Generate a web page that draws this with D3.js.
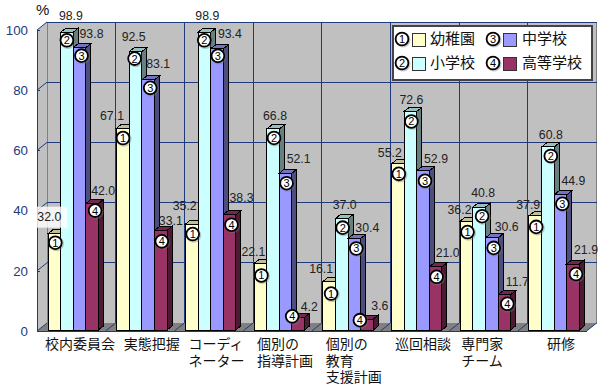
<!DOCTYPE html>
<html>
<head>
<meta charset="utf-8">
<script src="https://cdn.jsdelivr.net/npm/d3@7"></script>
<style>
  html, body { margin: 0; background: #fff; }
  svg { display: block; }
  text { font-family: "Liberation Sans", Arial, sans-serif; }
  .jp { font-family: "Noto Sans CJK JP", sans-serif; }
</style>
</head>
<body>
<svg id="chart" width="605" height="386"></svg>
<script>
const categories = ['校内委員会', '実態把握', 'コーディ\nネーター', '個別の\n指導計画', '個別の\n教育\n支援計画', '巡回相談', '専門家\nチーム', '研修'];
const schools = ['幼稚園', '小学校', '中学校', '高等学校'];
const kindergarten = [32.0, 67.1, 35.2, 22.1, 16.1, 55.2, 36.2, 37.9];
const elementary = [98.9, 92.5, 98.9, 66.8, 37.0, 72.6, 40.8, 60.8];
const juniorHigh = [93.8, 83.1, 93.4, 52.1, 30.4, 52.9, 30.6, 44.9];
const seniorHigh = [42.0, 33.1, 38.3, 4.2, 3.6, 21.0, 11.7, 21.9];
const yTicks = [0, 20, 40, 60, 80, 100];
const series = [kindergarten, elementary, juniorHigh, seniorHigh];

// hand placed in the original, so nudges from the bar top centre: [category][series] = [dx, dy]
const markerNudge = [
  [[1,9],[0,8],[2,8],[3,7]], [[0,10],[-1,7],[2,8],[1,11]],
  [[1,10],[0,8],[1,7],[2,10]], [[1,12],[1,9],[1,10],[-6,-1]],
  [[2,12],[1,9],[2,10],[-7,1]], [[1,10],[1,10],[2,10],[1,10]],
  [[1,11],[3,9],[2,10],[3,9]], [[1,11],[3,9],[2,9],[3,10]]
];
const labelNudge = [
  [[-5,-17],[4,-17],[12,-14],[11,-13]], [[-11,-12],[-2,-15],[10,-16],[10,-10]],
  [[-7,-18],[3,-17],[13,-15],[12,-17]], [[-7,-12],[2,-13],[13,-14],[11,-11]],
  [[-8,-13],[3,-14],[13,-11],[13,-13]], [[-8,-11],[1,-12],[13,-12],[12,-14]],
  [[-7,-11],[4,-14],[15,-11],[13,-13]], [[-7,-11],[3,-12],[13,-14],[13,-14]]
];
const catLabelInset = [8, 18, 14, 14, 14, 14.5, 12, 29];

const front = ['#FFFFCC', '#CCFFFF', '#9999FF', '#993366'];
const topFace = ['#BFBF99', '#99BFBF', '#7373BF', '#732650'];
const side = ['#808066', '#668080', '#4D4D80', '#4D1A33'];
const BLUE = '#1F3A7D', INK = '#222';
const DX = 10, DY = -8, BAR_DX = 5, BAR_DY = -4;

const svg = d3.select('#chart');
const x0 = d3.scaleBand().domain(d3.range(categories.length)).range([37, 586.6]);
const x1 = d3.scaleBand().domain(d3.range(series.length)).range([11, 61.4]);
const y = d3.scaleLinear().domain([0, 100]).range([331, 30]);
const yBase = y(0), yTop = y(100), xL = x0.range()[0], xR = x0.range()[1];
const barTop = v => y(v) - 1;

// walls and floor
const walls = svg.append('g').attr('shape-rendering', 'crispEdges');
walls.append('rect').attr('x', xL + DX).attr('y', yTop + DY)
  .attr('width', xR - xL).attr('height', yBase - yTop)
  .attr('fill', '#C0C0C0').attr('stroke', '#808080');
svg.append('path').attr('fill', '#C0C0C0')
  .attr('d', d3.line()([[xL, yBase], [xL, yTop], [xL + DX, yTop + DY], [xL + DX, yBase + DY]]) + 'Z');
svg.append('path').attr('fill', '#808080')
  .attr('d', d3.line()([[xL, yBase], [xL + DX, yBase + DY], [xR + DX, yBase + DY], [xR, yBase]]) + 'Z');

// gridlines on the back wall, diagonals on side wall and floor
const grid = svg.append('g').attr('stroke', BLUE).attr('fill', 'none');
yTicks.filter(t => t > 0).forEach(t => {
  grid.append('line').attr('x1', xL + DX).attr('x2', xR + DX).attr('y1', y(t) + DY).attr('y2', y(t) + DY)
    .attr('shape-rendering', 'crispEdges');
  grid.append('line').attr('x1', xL).attr('x2', xL + DX).attr('y1', y(t)).attr('y2', y(t) + DY);
});
d3.range(categories.length + 1).forEach(c => {
  const bx = xL + x0.step() * c;
  if (c > 0 && c < categories.length) {
    grid.append('line').attr('x1', bx + DX).attr('x2', bx + DX).attr('y1', yTop + DY).attr('y2', yBase + DY)
      .attr('shape-rendering', 'crispEdges');
  }
  grid.append('line').attr('x1', bx).attr('x2', bx + DX).attr('y1', yBase).attr('y2', yBase + DY);
});

// axes
const axis = svg.append('g').attr('transform', `translate(${xL},0)`)
  .call(d3.axisLeft(y).tickValues(yTicks).tickSize(-3).tickPadding(9));
axis.selectAll('path, line').attr('stroke', BLUE).attr('shape-rendering', 'crispEdges');
axis.selectAll('text').attr('fill', BLUE).attr('font-size', 13.3)
  .attr('font-family', '"Liberation Sans", Arial, sans-serif');
svg.append('line').attr('x1', xL).attr('x2', xR).attr('y1', yBase).attr('y2', yBase)
  .attr('stroke', BLUE).attr('shape-rendering', 'crispEdges');

// bars
const bars = svg.append('g').attr('stroke', '#000').attr('shape-rendering', 'crispEdges');
categories.forEach((_, c) => {
  series.forEach((vals, k) => {
    const bx = x0(c) + x1(k), bw = x1.bandwidth(), t = barTop(vals[c]), b = yBase - 1;
    bars.append('path').attr('fill', side[k])
      .attr('d', d3.line()([[bx + bw, b], [bx + bw, t], [bx + bw + BAR_DX, t + BAR_DY], [bx + bw + BAR_DX, b + BAR_DY]]) + 'Z');
    bars.append('path').attr('fill', topFace[k])
      .attr('d', d3.line()([[bx, t], [bx + BAR_DX, t + BAR_DY], [bx + bw + BAR_DX, t + BAR_DY], [bx + bw, t]]) + 'Z');
    bars.append('rect').attr('x', bx).attr('y', t).attr('width', bw).attr('height', b - t).attr('fill', front[k]);
  });
});

function marker(g, cx, cy, n) {
  g.append('circle').attr('cx', cx + 1).attr('cy', cy + 1).attr('r', 7.6).attr('fill', '#777').attr('opacity', 0.4);
  g.append('circle').attr('cx', cx).attr('cy', cy).attr('r', 6.4).attr('fill', '#fff').attr('stroke', '#000').attr('stroke-width', 1.8);
  g.append('text').attr('x', cx).attr('y', cy + 4).attr('text-anchor', 'middle')
    .attr('font-size', 11).attr('fill', '#000').text(n);
}

// value labels and numbered markers
const notes = svg.append('g');
categories.forEach((_, c) => {
  series.forEach((vals, k) => {
    const cx = x0(c) + x1(k) + x1.bandwidth() / 2, t = barTop(vals[c]);
    const [lx, ly] = labelNudge[c][k], [mx, my] = markerNudge[c][k];
    const lab = notes.append('text').attr('x', cx + lx).attr('y', t + ly + 4.3).attr('text-anchor', 'middle')
      .attr('font-size', 12.3).attr('fill', INK).text(vals[c].toFixed(1));
    // the first label sits on a white patch in the original, over the side wall
    if (c === 0 && k === 0) {
      notes.insert('rect', () => lab.node()).attr('x', cx + lx - 13).attr('y', t + ly - 10)
        .attr('width', 31).attr('height', 21).attr('fill', '#fff').attr('opacity', 0.8);
    }
    marker(notes, cx + mx, t + my, k + 1);
  });
});

// category labels
categories.forEach((name, c) => {
  name.split('\n').forEach((line, i) => {
    svg.append('text').attr('class', 'jp').attr('x', x0(c) + catLabelInset[c]).attr('y', 349 + i * 16.5)
      .attr('font-size', 14).attr('fill', '#111').text(line);
  });
});

svg.append('text').attr('x', 36).attr('y', 15).attr('font-size', 15).attr('fill', '#111').text('%');

// legend
const legend = svg.append('g');
legend.append('rect').attr('x', 393).attr('y', 26).attr('width', 199).attr('height', 54)
  .attr('fill', '#fff').attr('stroke', '#444').attr('stroke-width', 2).attr('shape-rendering', 'crispEdges');
const legendCol = d3.scaleOrdinal().domain([0, 1]).range([402, 493]);
const legendRow = d3.scaleOrdinal().domain([0, 1]).range([39, 63]);
schools.forEach((name, k) => {
  const col = k < 2 ? 0 : 1, row = k % 2, lx = legendCol(col), ly = legendRow(row);
  marker(legend, lx, ly, k + 1);
  legend.append('rect').attr('x', lx + 10).attr('y', ly - 6).attr('width', 13).attr('height', 13)
    .attr('fill', front[k]).attr('stroke', '#333').attr('shape-rendering', 'crispEdges');
  legend.append('text').attr('class', 'jp').attr('x', lx + (col ? 29 : 28)).attr('y', ly + 5)
    .attr('font-size', 15).attr('fill', '#111').text(name);
});
</script>
</body>
</html>
